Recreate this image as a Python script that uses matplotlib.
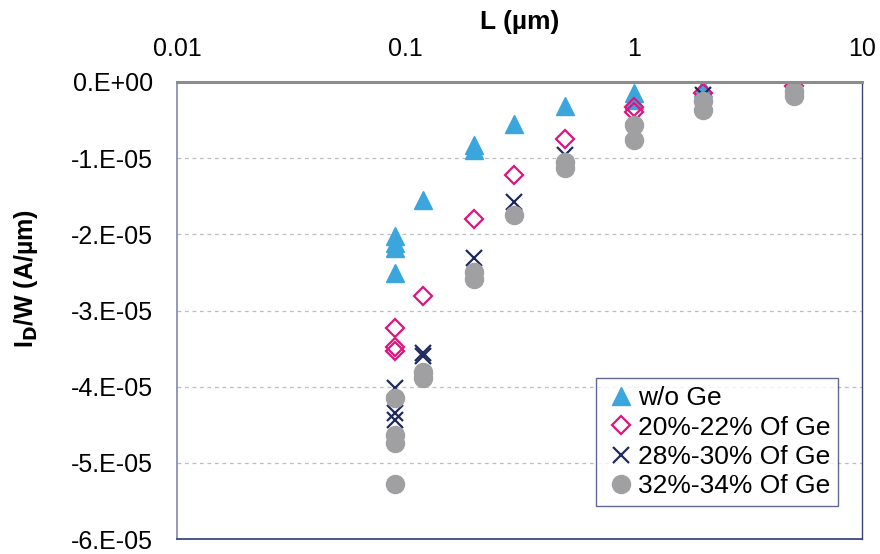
import matplotlib
matplotlib.use("Agg")
import matplotlib.pyplot as plt
from matplotlib.ticker import FixedLocator, FixedFormatter, NullLocator

plt.rcParams['font.family'] = ['Liberation Sans', 'DejaVu Sans']

# Data (L in um, ID/W in A/um)
wo_x = [0.09, 0.09, 0.09, 0.09, 0.12, 0.2, 0.2, 0.3, 0.5, 1, 1, 2, 5]
wo_y = [-2.02e-5, -2.11e-5, -2.18e-5, -2.51e-5, -1.55e-5, -0.83e-5, -0.89e-5,
        -0.55e-5, -0.31e-5, -0.14e-5, -0.24e-5, -0.08e-5, -0.03e-5]

g20_x = [0.09, 0.09, 0.09, 0.12, 0.2, 0.3, 0.5, 1, 1, 2, 5]
g20_y = [-3.23e-5, -3.48e-5, -3.53e-5, -2.81e-5, -1.80e-5, -1.22e-5, -0.75e-5,
         -0.33e-5, -0.39e-5, -0.14e-5, -0.05e-5]

g28_x = [0.09, 0.09, 0.09, 0.12, 0.12, 0.2, 0.3, 0.5, 1, 2, 5]
g28_y = [-4.02e-5, -4.34e-5, -4.44e-5, -3.56e-5, -3.60e-5, -2.31e-5, -1.57e-5,
         -0.96e-5, -0.63e-5, -0.17e-5, -0.06e-5]

g32_x = [0.09, 0.09, 0.09, 0.09, 0.12, 0.12, 0.2, 0.2, 0.3, 0.5, 0.5, 1, 1, 2, 2, 5, 5]
g32_y = [-4.15e-5, -4.63e-5, -4.74e-5, -5.28e-5, -3.81e-5, -3.88e-5, -2.49e-5,
         -2.59e-5, -1.75e-5, -1.05e-5, -1.13e-5, -0.56e-5, -0.76e-5, -0.25e-5,
         -0.37e-5, -0.12e-5, -0.18e-5]

labels = ['w/o Ge', '20%-22% Of Ge', '28%-30% Of Ge', '32%-34% Of Ge']

x_ticks = [0.01, 0.1, 1, 10]
x_ticklabels = ['0.01', '0.1', '1', '10']
y_ticks = [0, -1e-5, -2e-5, -3e-5, -4e-5, -5e-5, -6e-5]
y_ticklabels = ['0.E+00', '-1.E-05', '-2.E-05', '-3.E-05', '-4.E-05', '-5.E-05', '-6.E-05']

fig = plt.figure(figsize=(8.8, 5.54), dpi=100)
ax = fig.add_axes([0.201, 0.027, 0.779, 0.825])

ax.set_xscale('log')
ax.set_xlim(0.01, 10)
ax.set_ylim(-6e-5, 0)

ax.plot(wo_x, wo_y, linestyle='none', marker='^', ms=13, color='#3AA6DD',
        markeredgecolor='#3AA6DD', label=labels[0])
ax.plot(g20_x, g20_y, linestyle='none', marker='D', ms=9.5, markerfacecolor='none',
        markeredgecolor='#E0147E', mew=1.6, label=labels[1])
ax.plot(g28_x, g28_y, linestyle='none', marker='x', ms=12, color='#1F2A5E',
        mew=1.6, label=labels[2])
ax.plot(g32_x, g32_y, linestyle='none', marker='o', ms=13, color='#A0A0A2',
        markeredgecolor='#A0A0A2', label=labels[3])

# Axes formatting
ax.xaxis.tick_top()
ax.xaxis.set_label_position('top')
ax.xaxis.set_major_locator(FixedLocator(x_ticks))
ax.xaxis.set_major_formatter(FixedFormatter(x_ticklabels))
ax.xaxis.set_minor_locator(NullLocator())
ax.yaxis.set_major_locator(FixedLocator(y_ticks))
ax.yaxis.set_major_formatter(FixedFormatter(y_ticklabels))
ax.tick_params(axis='both', length=0, labelsize=18)
ax.tick_params(axis='y', pad=17)
ax.tick_params(axis='x', pad=15)

ax.grid(axis='y', color='#BEBEBE', linestyle=(0, (3, 3)), linewidth=0.9)
ax.set_axisbelow(True)

ax.spines['top'].set_color('#8C8C8C')
ax.spines['top'].set_linewidth(2.2)
ax.spines['left'].set_color('#8088AA')
ax.spines['left'].set_linewidth(1.2)
ax.spines['right'].set_color('#3A4377')
ax.spines['bottom'].set_color('#2F3A6E')
ax.spines['right'].set_linewidth(1.0)
ax.spines['bottom'].set_linewidth(1.2)

ax.set_xlabel('L (µm)', fontsize=19, fontweight='bold', labelpad=6)
ax.set_ylabel(r'I$_\mathbf{D}$/W (A/µm)', fontsize=18, fontweight='bold')
ax.yaxis.set_label_coords(-0.199, 0.571)

leg = ax.legend(loc='lower right', bbox_to_anchor=(0.965, 0.072), fontsize=19,
                frameon=True, fancybox=False, borderpad=0.3, handletextpad=0.0,
                handlelength=1.3, labelspacing=0.2, borderaxespad=0)
leg.get_frame().set_edgecolor('#3A4377')
leg.get_frame().set_linewidth(1.0)

fig.savefig('out.png', dpi=100)
